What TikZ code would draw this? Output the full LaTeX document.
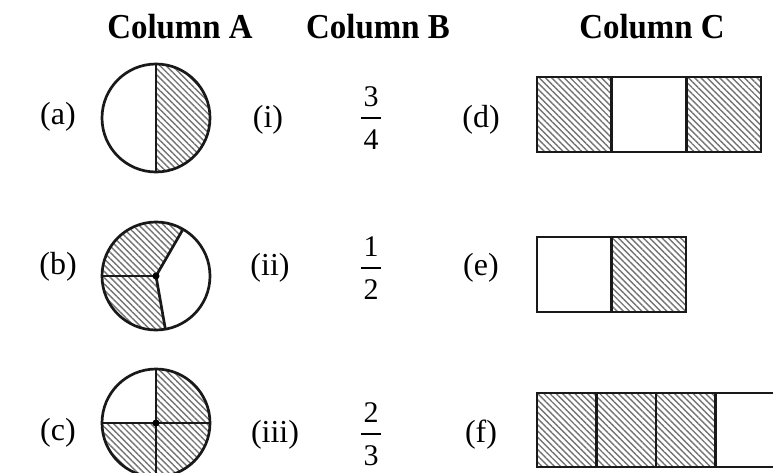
\documentclass[tikz,border=0pt]{standalone}
\usepackage{fontspec}
\setmainfont{Liberation Serif}
\usetikzlibrary{patterns.meta,calc}
\begin{document}
\begin{tikzpicture}[x=1pt,y=1pt,
  head/.style={font=\fontsize{35}{38}\selectfont\bfseries, inner sep=0pt},
  lab/.style={font=\fontsize{32}{34}\selectfont, inner sep=0pt},
  num/.style={font=\fontsize{30}{32}\selectfont, inner sep=0pt},
  bar/.style={line width=1.4pt},
  hatch/.style={pattern={Lines[angle=-45,distance=4.4pt,line width=1.4pt]}, pattern color=black!55},
  edge/.style={line width=2.7pt, black!90},
  dot/.style={circle, fill=black, inner sep=0pt, minimum size=7pt}]
\useasboundingbox (0,0) rectangle (773,472);
% headings
\node[head] (hA) at (180,445) {\scalebox{0.94}[1]{Column A}};
\node[head] (hB) at (378,445) {\scalebox{0.94}[1]{Column B}};
\node[head] (hC) at (652,445) {\scalebox{0.94}[1]{Column C}};
% labels
\node[lab] (la) at (58,355) {(a)};
\node[lab] (lb) at (58,205) {(b)};
\node[lab] (lc) at (58,39) {(c)};
\node[lab] (li) at (268,352) {(i)};
\node[lab] (lii) at (270,204) {(ii)};
\node[lab] (liii) at (275,37) {(iii)};
\node[lab] (ld) at (481,352) {(d)};
\node[lab] (le) at (481,204) {(e)};
\node[lab] (lf) at (481,37) {(f)};
% fractions
\coordinate (b1) at (371,354);
\node[num] (n1) at ($(b1)+(0,21)$) {3};
\node[num] (d1) at ($(b1)+(0,-22)$) {4};
\draw[bar] ($(b1)+(-10,0)$) -- ($(b1)+(10,0)$);
\coordinate (b2) at (371,204);
\node[num] (n2) at ($(b2)+(0,21)$) {1};
\node[num] (d2) at ($(b2)+(0,-22)$) {2};
\draw[bar] ($(b2)+(-10,0)$) -- ($(b2)+(10,0)$);
\coordinate (b3) at (371,38);
\node[num] (n3) at ($(b3)+(0,21)$) {2};
\node[num] (d3) at ($(b3)+(0,-22)$) {3};
\draw[bar] ($(b3)+(-10,0)$) -- ($(b3)+(10,0)$);
% circle (a)
\coordinate (ca) at (156,354);
\fill[hatch] (ca) -- ++(-90:54) arc (-90:90:54) -- cycle;
\draw[edge] (ca) circle (54);
\draw[edge] ($(ca)+(0,54)$) -- ($(ca)+(0,-54)$);
% circle (b)
\coordinate (cb) at (156,196);
\fill[hatch] (cb) -- ++(60:54) arc (60:280:54) -- cycle;
\draw[edge] (cb) circle (54);
\draw[edge] (cb) -- ++(180:54);
\draw[edge] (cb) -- ++(60:54);
\draw[edge] (cb) -- ++(-80:54);
\node[dot] (db) at (cb) {};
% circle (c)
\coordinate (cc) at (156,49);
\fill[hatch] (cc) -- ++(0:54) arc (0:90:54) -- cycle;
\fill[hatch] (cc) -- ++(180:54) arc (180:360:54) -- cycle;
\draw[edge] (cc) circle (54);
\draw[edge] ($(cc)+(-54,0)$) -- ($(cc)+(54,0)$);
\draw[edge] ($(cc)+(0,54)$) -- ($(cc)+(0,-54)$);
\node[dot] (dc) at (cc) {};
% rect (d)
\fill[hatch] (537,320) rectangle (611.7,395);
\fill[hatch] (686.3,320) rectangle (761,395);
\draw[edge] (537,320) rectangle (761,395);
\draw[edge] (611.7,320) -- (611.7,395);
\draw[edge] (686.3,320) -- (686.3,395);
% rect (e)
\fill[hatch] (611.5,160) rectangle (686,235);
\draw[edge] (537,160) rectangle (686,235);
\draw[edge] (611.5,160) -- (611.5,235);
% rect (f)
\fill[hatch] (537,5) rectangle (715.5,79);
\draw[edge] (775,79) -- (537,79) -- (537,5) -- (775,5);
\draw[edge] (596.5,5) -- (596.5,79);
\draw[edge] (656,5) -- (656,79);
\draw[edge] (715.5,5) -- (715.5,79);
\end{tikzpicture}
\end{document}
